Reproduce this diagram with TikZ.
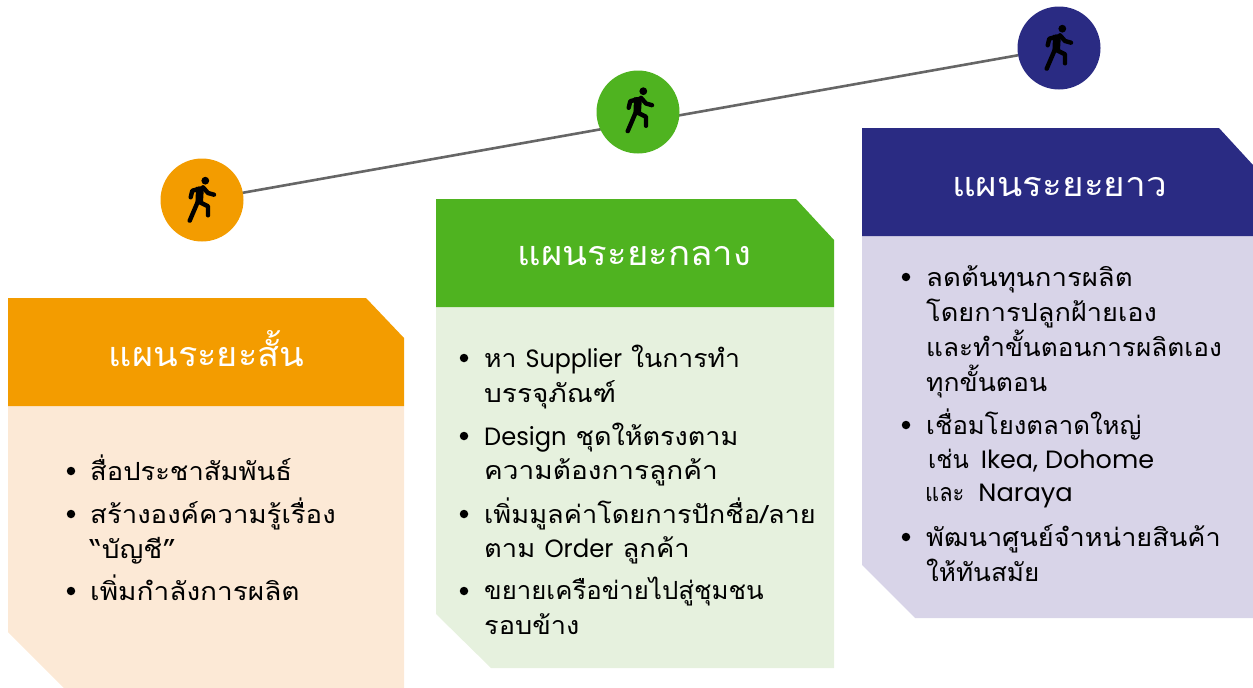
\documentclass[tikz,border=0pt]{standalone}
\usepackage{fontspec}
\usepackage{graphicx}
\setmainfont{Poppins}
\newfontfamily\thai[Script=Thai,FakeStretch=1.12]{Loma}
\newfontfamily\lat{Poppins}
\newcommand\hs[2]{\scalebox{#1}[1]{#2}}
\definecolor{orangeM}{HTML}{F39C00}
\definecolor{orangeL}{HTML}{FCE9D6}
\definecolor{greenM}{HTML}{4FB320}
\definecolor{greenL}{HTML}{E6F1DE}
\definecolor{navyM}{HTML}{2A2B83}
\definecolor{navyL}{HTML}{D8D4E8}
\definecolor{lineG}{HTML}{666666}
\tikzset{
  x=1pt,y=-1pt,
  stop/.style={circle,minimum size=83pt,inner sep=0pt,outer sep=0pt},
  ttl/.style={text=white,font=\fontsize{34}{34}\selectfont\thai,anchor=base,inner sep=0pt},
  ln/.style={text=black,font=\fontsize{25}{25}\selectfont\thai,anchor=base west,inner sep=0pt},
  bul/.style={circle,fill=black,minimum size=8.5pt,inner sep=0pt},
  link/.style={draw=lineG,line width=2.6pt},
  walker/.pic={
    \fill[black] (3.3,-19.3) circle[radius=3.9];
    \draw[black,line width=4.4pt,line cap=round,line join=round]
      (-2.3,-11.3) -- (-4,1.3) -- (-12.3,20.7)
      (-4,1.3) -- (6,6.3) -- (6,15.3)
      (-2.3,-11.3) -- (-9.7,-9.3) -- (-11.3,-2.7)
      (1,-12.7) -- (6,-7) -- (12,-5.3);
    \fill[black] (-6,-13) -- (2,-14) -- (1,2) -- (-6.5,2) -- cycle;
  }
}
\begin{document}
\begin{tikzpicture}
\useasboundingbox (0,0) rectangle (1253,688);
% panel 1
\fill[orangeL] (8,406) -- (404,406) -- (404,688) -- (64,688) -- (8,632) -- cycle;
\fill[orangeM] (8,298) -- (366,298) -- (404,338) -- (404,406) -- (8,406) -- cycle;
% panel 2
\fill[greenL] (436,307) -- (834,307) -- (834,668) -- (491,668) -- (436,614) -- cycle;
\fill[greenM] (436,199) -- (796,199) -- (834,240) -- (834,307) -- (436,307) -- cycle;
% panel 3
\fill[navyL] (862,236) -- (1253,236) -- (1253,618) -- (915,618) -- (862,565) -- cycle;
\fill[navyM] (862,128) -- (1219,128) -- (1253,165) -- (1253,236) -- (862,236) -- cycle;
% stops
\node[stop,fill=orangeM] (s1) at (202,200) {};
\node[stop,fill=navyM] (s3) at (1059,48) {};
\draw[link] (s1) -- (s3);
\node[stop,fill=greenM] (s2) at (638,112) {};
\pic at (s1) {walker};
\pic at ([shift={(2,-1.5)}]s2) {walker};
\pic at (s3) {walker};
% titles
\node[ttl] (t1) at (206.5,366) {\hs{0.95}{แผนระยะสั้น}};
\node[ttl] (t2) at (634.5,265) {\hs{0.96}{แผนระยะกลาง}};
\node[ttl] (t3) at (1059.5,196) {\hs{0.97}{แผนระยะยาว}};
% panel 1 text
\node[bul] (b11) at (71,471) {};
\node[ln] (l11) at (90,480) {\hs{0.976}{สื่อประชาสัมพันธ์}};
\node[bul] (b12) at (71,514) {};
\node[ln] (l12) at (90,523) {\hs{0.984}{สร้างองค์ความรู้เรื่อง}};
\node[ln] (l13) at (90,558) {“บัญชี”};
\node[bul] (b13) at (71,591) {};
\node[ln] (l14) at (90,600) {เพิ่มกำลังการผลิต};
% panel 2 text
\node[bul] (b21) at (464,358) {};
\node[ln] (l21) at (484,367) {\hs{0.95}{หา {\lat Supplier} ในการทำ}};
\node[ln] (l22) at (484,402) {บรรจุภัณฑ์};
\node[bul] (b22) at (464,436) {};
\node[ln] (l23) at (484,445) {\hs{0.966}{{\lat Design} ชุดให้ตรงตาม}};
\node[ln] (l24) at (484,479) {ความต้องการลูกค้า};
\node[bul] (b23) at (464,514) {};
\node[ln] (l25) at (484,523) {\hs{0.97}{เพิ่มมูลค่าโดยการปักชื่อ/ลาย}};
\node[ln] (l26) at (484,557) {\hs{0.976}{ตาม {\lat Order} ลูกค้า}};
\node[bul] (b24) at (464,591) {};
\node[ln] (l27) at (484,599) {\hs{0.92}{ขยายเครือข่ายไปสู่ชุมชน}};
\node[ln] (l28) at (484,634) {\hs{0.97}{รอบข้าง}};
% panel 3 text
\node[bul] (b31) at (906,277) {};
\node[ln] (l31) at (926,286) {\hs{0.985}{ลดต้นทุนการผลิต}};
\node[ln] (l32) at (926,321) {\hs{0.97}{โดยการปลูกฝ้ายเอง}};
\node[ln] (l33) at (926,356) {\hs{0.934}{และทำขั้นตอนการผลิตเอง}};
\node[ln] (l34) at (926,391) {\hs{0.946}{ทุกขั้นตอน}};
\node[bul] (b32) at (906,425) {};
\node[ln] (l35) at (926,434) {\hs{0.92}{เชื่อมโยงตลาดใหญ่}};
\node[ln] (l36) at (928,468) {\hs{0.85}{เช่น}\hspace{12pt}\hs{1.02}{\lat Ikea, Dohome}};
\node[ln] (l37) at (925,501) {\hs{0.78}{และ}\hspace{14pt}\hs{1.03}{\lat Naraya}};
\node[bul] (b33) at (906,537) {};
\node[ln] (l38) at (926,546) {\hs{0.967}{พัฒนาศูนย์จำหน่ายสินค้า}};
\node[ln] (l39) at (926,581) {\hs{0.93}{ให้ทันสมัย}};
\end{tikzpicture}
\end{document}
